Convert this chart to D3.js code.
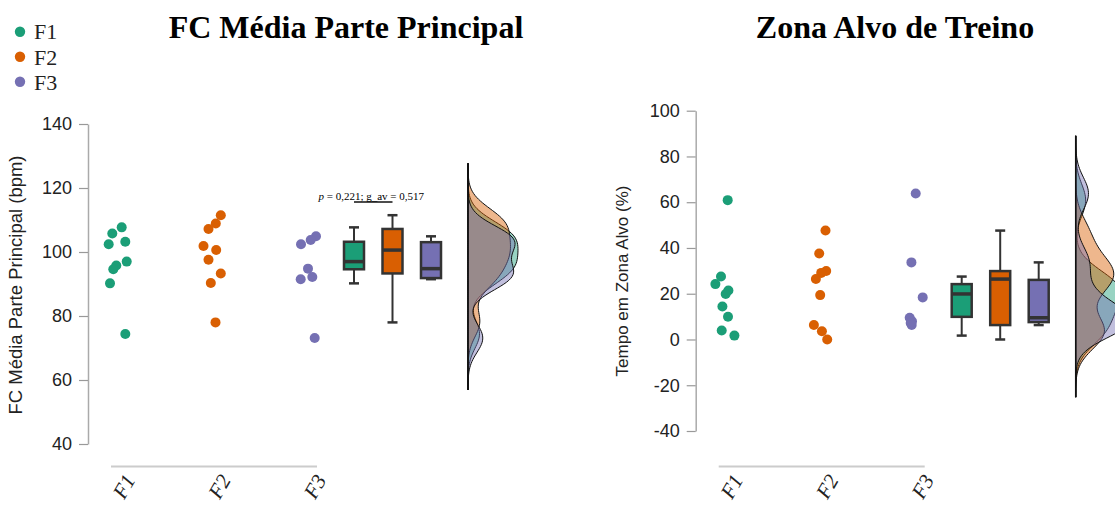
<!DOCTYPE html>
<html>
<head>
<meta charset="utf-8">
<script src="https://cdn.jsdelivr.net/npm/d3@7"></script>
<style>
  body { margin: 0; background: #fff; }
  svg { display: block; }
</style>
</head>
<body>
<div id="chart"></div>
<script>
// groups and colours
var groups = ["F1", "F2", "F3"];
var colors = ["#1b9e77", "#d95f02", "#7570b3"];

// FC Média Parte Principal (bpm)
var fcF1 = [107.7, 105.8, 102.4, 103.2, 97.0, 95.8, 94.6, 90.2, 74.4];
var fcF2 = [111.5, 108.9, 107.2, 101.9, 100.6, 97.6, 93.3, 90.3, 78.0];
var fcF3 = [104.9, 103.75, 102.4, 94.8, 92.2, 91.5, 73.1];
// horizontal jitter of each dot (px)
var fcJit1 = [4.7, -4.7, -8.3, 8.3, 9.7, -0.7, -3.7, -7, 8.3];
var fcJit2 = [8.3, 3.3, -4, -9, 3.7, -4, 8.3, -1.7, 3];
var fcJit3 = [8, 2.7, -7, 0, 4.3, -7.3, 6.7];
var fcTicks = [40, 60, 80, 100, 120, 140];

// Tempo em Zona Alvo (%)
var zF1 = [60.9, 27.5, 24.2, 21.4, 19.9, 14.4, 9.9, 3.9, 1.7];
var zF2 = [47.6, 37.6, 29.9, 29.1, 26.4, 19.4, 6.3, 3.6, 0];
var zF3 = [63.8, 33.7, 18.4, 9.5, 8.0, 7.2, 6.3];
var zJit1 = [3, -3.7, -9.3, 3.7, 1, -2.3, 3.3, -3, 9.7];
var zJit2 = [5.3, -1, 6, 1, -4.3, 0, -6.3, 1.7, 7];
var zJit3 = [0, -4.3, 7, -6, -3.7, -5, -4];
var zTicks = [-40, -20, 0, 20, 40, 60, 80, 100];

var statText = " = 0,221; g_av = 0,517";

var W = 1115, H = 506;
var svg = d3.select("#chart").append("svg")
    .attr("width", W)
    .attr("height", H);

// legend
var legend = svg.append("g");
legend.selectAll("circle")
  .data(groups)
  .enter()
  .append("circle")
    .attr("cx", 20)
    .attr("cy", function(d, i) { return 31.7 + i * 25; })
    .attr("r", 5.2)
    .style("fill", function(d, i) { return colors[i]; });
legend.selectAll("text")
  .data(groups)
  .enter()
  .append("text")
    .attr("x", 34)
    .attr("y", function(d, i) { return 39 + i * 25.5; })
    .style("font-family", "'Liberation Serif', 'Times New Roman', serif")
    .style("font-size", "22px")
    .style("fill", "#222")
    .text(function(d) { return d; });

function kde(bw, xs) {
  return function(vals) {
    return xs.map(function(x) {
      return [x, d3.mean(vals, function(v) {
        var u = (x - v) / bw;
        return Math.exp(-0.5 * u * u) / (bw * Math.sqrt(2 * Math.PI));
      })];
    });
  };
}

function drawPanel(opt) {
  var ax = opt.axisX;
  var g = svg.append("g");

  var y = d3.scaleLinear().domain(opt.yDomain).range(opt.yRange);
  var x = d3.scalePoint().domain(groups).range([ax + 29, ax + 220]);
  var xb = d3.scalePoint().domain(groups).range([ax + 266, ax + 343]);
  var densX = ax + 380;

  // title
  g.append("text")
    .attr("x", opt.titleX)
    .attr("y", 38)
    .attr("text-anchor", "middle")
    .style("font-family", "'Liberation Serif', 'Times New Roman', serif")
    .style("font-weight", "bold")
    .style("font-size", "32px")
    .text(opt.title);

  // y axis
  var yAxis = g.append("g")
    .attr("transform", "translate(" + ax + ",0)")
    .call(d3.axisLeft(y).tickValues(opt.ticks)
      .tickFormat(function(d) { return String(d); })
      .tickSize(9).tickPadding(7).tickSizeOuter(0));
  yAxis.select(".domain").attr("stroke", "#aaa").attr("stroke-width", 1.5);
  yAxis.selectAll(".tick line").attr("stroke", "#999").attr("stroke-width", 1.2);
  yAxis.selectAll(".tick text")
    .style("font-family", "'Liberation Sans', Arial, sans-serif")
    .style("font-size", "18px")
    .style("fill", "#222");

  g.append("text")
    .attr("transform", "translate(" + (ax - opt.labelOff) + "," + opt.labelY + ") rotate(-90)")
    .attr("text-anchor", "middle")
    .style("font-family", "'Liberation Sans', Arial, sans-serif")
    .style("font-size", opt.labelSize + "px")
    .style("fill", "#222")
    .text(opt.yLabel);

  // x axis line and labels
  g.append("line")
    .attr("x1", x("F1") - 6)
    .attr("x2", x("F3") + 9)
    .attr("y1", 466.5)
    .attr("y2", 466.5)
    .attr("stroke", "#ccc")
    .attr("stroke-width", 2);
  g.selectAll(".xlab")
    .data(groups)
    .enter()
    .append("text")
      .attr("class", "xlab")
      .attr("transform", function(d) { return "translate(" + (x(d) + 19) + ",480) rotate(-60)"; })
      .attr("text-anchor", "end")
      .style("font-family", "'Liberation Serif', 'Times New Roman', serif")
      .style("font-style", "italic")
      .style("font-size", "21px")
      .style("fill", "#222")
      .text(function(d) { return d; });

  // dots
  groups.forEach(function(grp, i) {
    g.append("g")
      .selectAll("circle")
      .data(opt.values[i])
      .enter()
      .append("circle")
        .attr("cx", function(d, j) { return x(grp) + opt.jitter[i][j]; })
        .attr("cy", function(d) { return y(d); })
        .attr("r", 5)
        .style("fill", colors[i]);
  });

  // boxes
  groups.forEach(function(grp, i) {
    var v = opt.values[i].slice().sort(d3.ascending);
    var q1 = d3.quantile(v, 0.25), med = d3.quantile(v, 0.5), q3 = d3.quantile(v, 0.75);
    var iqr = q3 - q1;
    var lo = d3.min(v.filter(function(d) { return d >= q1 - 1.5 * iqr; }));
    var hi = d3.max(v.filter(function(d) { return d <= q3 + 1.5 * iqr; }));
    var cx = xb(grp), bw = 20, cw = 10;
    var bg = g.append("g").attr("stroke", "#333");
    bg.append("line").attr("x1", cx).attr("x2", cx).attr("y1", y(hi)).attr("y2", y(lo)).attr("stroke-width", 2);
    bg.append("line").attr("x1", cx - cw / 2).attr("x2", cx + cw / 2).attr("y1", y(hi)).attr("y2", y(hi)).attr("stroke-width", 2.5);
    bg.append("line").attr("x1", cx - cw / 2).attr("x2", cx + cw / 2).attr("y1", y(lo)).attr("y2", y(lo)).attr("stroke-width", 2.5);
    bg.append("rect")
      .attr("x", cx - bw / 2)
      .attr("y", y(q3))
      .attr("width", bw)
      .attr("height", y(q1) - y(q3))
      .attr("fill", colors[i])
      .attr("stroke-width", 2.5);
    bg.append("line").attr("x1", cx - bw / 2).attr("x2", cx + bw / 2).attr("y1", y(med)).attr("y2", y(med)).attr("stroke-width", 3.5);
  });

  // half violins
  var all = d3.merge(opt.values);
  var dom = [d3.min(all) - 3.6 * opt.bw, d3.max(all) + 3.6 * opt.bw];
  var xs = d3.range(dom[0], dom[1] + 0.001, (dom[1] - dom[0]) / 120);
  var est = kde(opt.bw, xs);
  var dens = opt.values.map(function(v) { return est(v); });
  var maxD = d3.max(dens, function(d) { return d3.max(d, function(p) { return p[1]; }); });
  var w = d3.scaleLinear().domain([0, maxD]).range([0, opt.violinW]);
  var area = d3.area()
    .curve(d3.curveBasis)
    .y(function(p) { return y(p[0]); })
    .x0(densX)
    .x1(function(p) { return densX + w(p[1]); });
  dens.forEach(function(d, i) {
    g.append("path")
      .datum(d)
      .attr("d", area)
      .attr("fill", colors[i])
      .attr("fill-opacity", 0.45)
      .attr("stroke", "#111")
      .attr("stroke-width", 1);
  });
  g.append("line")
    .attr("x1", densX).attr("x2", densX)
    .attr("y1", y(dom[0])).attr("y2", y(dom[1]))
    .attr("stroke", "#111")
    .attr("stroke-width", 1.5);

  // comparison annotation
  if (opt.stat) {
    g.append("line")
      .attr("x1", xb("F1")).attr("x2", xb("F2"))
      .attr("y1", 202).attr("y2", 202)
      .attr("stroke", "#111")
      .attr("stroke-width", 1.5);
    var t = g.append("text")
      .attr("x", (xb("F1") + xb("F2")) / 2 - 2)
      .attr("y", 200)
      .attr("text-anchor", "middle")
      .style("font-family", "'Liberation Serif', 'Times New Roman', serif")
      .style("font-size", "11px");
    t.append("tspan").style("font-style", "italic").text("p");
    t.append("tspan").text(opt.stat);
  }
}

drawPanel({
  axisX: 88,
  yDomain: [40, 140], yRange: [444, 124],
  ticks: fcTicks,
  title: "FC Média Parte Principal", titleX: 346,
  yLabel: "FC Média Parte Principal (bpm)", labelOff: 66, labelY: 285, labelSize: 18.5,
  values: [fcF1, fcF2, fcF3],
  jitter: [fcJit1, fcJit2, fcJit3],
  bw: 4.5, violinW: 50,
  stat: statText
});

drawPanel({
  axisX: 695.7,
  yDomain: [-40, 100], yRange: [431, 110.7],
  ticks: zTicks,
  title: "Zona Alvo de Treino", titleX: 895,
  yLabel: "Tempo em Zona Alvo (%)", labelOff: 68, labelY: 281, labelSize: 17,
  values: [zF1, zF2, zF3],
  jitter: [zJit1, zJit2, zJit3],
  bw: 7, violinW: 55,
  stat: null
});
</script>
</body>
</html>
